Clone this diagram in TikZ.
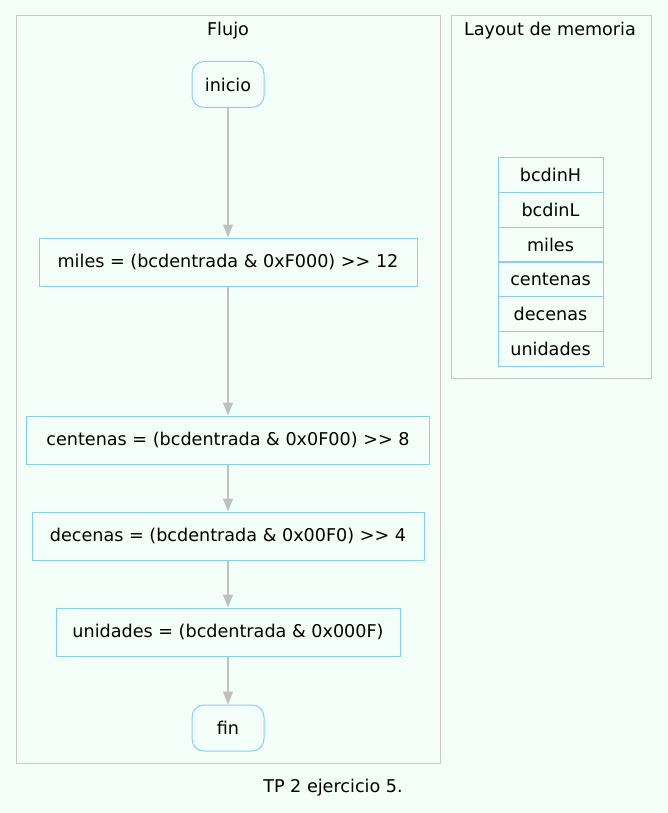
\documentclass[tikz,border=0pt]{standalone}
\usepackage{fontspec}
\setmainfont{DejaVu Sans}
\usetikzlibrary{arrows.meta}
\definecolor{bgc}{HTML}{F5FFFA}
\definecolor{nodec}{HTML}{87CEFA}
\definecolor{clc}{HTML}{C8C8C8}
\definecolor{edgec}{HTML}{C0C0C0}
\begin{document}
\begin{tikzpicture}[x=1pt,y=-1pt,
  every node/.style={font=\fontsize{17.6}{21}\selectfont, inner sep=0pt},
  termbox/.style={draw=nodec, line width=1pt, rounded corners=12pt, minimum width=72pt, minimum height=46pt},
  procbox/.style={draw=nodec, line width=1pt, minimum height=48pt},
  memcell/.style={draw=nodec, line width=1pt, minimum width=105pt, minimum height=34.67pt},
  cluster/.style={draw=clc, line width=1pt},
  flow/.style={draw=edgec, line width=1.4pt, -{Triangle[length=13pt,width=10pt]}}]
\fill[bgc] (0,0) rectangle (667,813);
\useasboundingbox (0,0) rectangle (667,813);
% clusters
\draw[cluster] (16,16) rectangle (440,763);
\node (t1) at (228,31) {Flujo};
\draw[cluster] (451,16) rectangle (651,378);
\node (t2) at (550,31) {Layout de memoria};
% flow nodes
\node[termbox] (inicio) at (228,84.5) {inicio};
\node[procbox, minimum width=378pt] (miles) at (228,262) {miles = (bcdentrada \& 0xF000) >{}> 12};
\node[procbox, minimum width=403pt] (cent) at (228,440) {centenas = (bcdentrada \& 0x0F00) >{}> 8};
\node[procbox, minimum width=392pt] (dec) at (228,536) {decenas = (bcdentrada \& 0x00F0) >{}> 4};
\node[procbox, minimum width=344pt] (uni) at (228,632) {unidades = (bcdentrada \& 0x000F)};
\node[termbox] (fin) at (228,728) {fin};
\draw[flow] (inicio) -- (miles);
\draw[flow] (miles) -- (cent);
\draw[flow] (cent) -- (dec);
\draw[flow] (dec) -- (uni);
\draw[flow] (uni) -- (fin);
% memory
\node[memcell] (m1) at (550.5,175.3) {bcdinH};
\node[memcell] (m2) at (550.5,210) {bcdinL};
\node[memcell] (m3) at (550.5,244.7) {miles};
\node[memcell] (m4) at (550.5,279.3) {centenas};
\node[memcell] (m5) at (550.5,314) {decenas};
\node[memcell] (m6) at (550.5,348.7) {unidades};
% caption
\node (cap) at (333,788) {TP 2 ejercicio 5.};
\end{tikzpicture}
\end{document}
